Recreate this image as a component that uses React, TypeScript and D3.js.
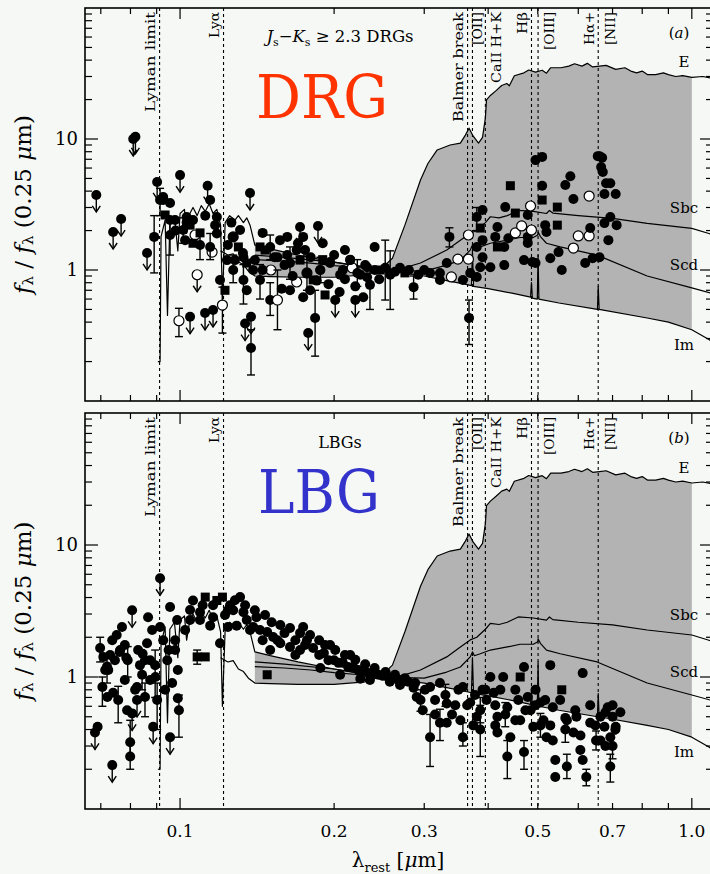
import React from "react";
import * as d3 from "d3";

type TP = [number, number];
type Pt = [number, number, number, number, string];

// ---------- axes ----------
const X_DOMAIN: [number, number] = [0.0652, 1.1];
const Y_DOMAIN: [number, number] = [0.1, 100];
const X_LABELED_TICKS = [0.1, 0.2, 0.3, 0.5, 0.7, 1.0];
const X_LABEL_TEXT = ["0.1", "0.2", "0.3", "0.5", "0.7", "1.0"];
const X_MAJOR_TICKS = [0.1, 1.0];
const X_MINOR_TICKS = [0.07, 0.08, 0.09, 0.2, 0.3, 0.4, 0.5, 0.6, 0.7, 0.8, 0.9];
const Y_MAJOR_TICKS = [1, 10];
const Y_MINOR_TICKS = [0.2, 0.3, 0.4, 0.5, 0.6, 0.7, 0.8, 0.9, 2, 3, 4, 5, 6, 7, 8, 9, 20, 30, 40, 50, 60, 70, 80, 90];
const Y_LABELED_TICKS = [1, 10];
const Y_LABEL_TEXT = ["1", "10"];

// ---------- spectral features ----------
const LINE_LAMBDAS = [0.0912, 0.1216, 0.3646, 0.3727, 0.395, 0.4861, 0.5007, 0.6563];
const LINE_LABELS = ["Lyman limit", "Lyα", "Balmer break", "[OII]", "CaII H+K", "Hβ", "[OIII]", "Hα+", "[NII]"];
const LINE_LABEL_LAMBDAS = [0.0912, 0.1216, 0.3646, 0.3727, 0.395, 0.4861, 0.5007, 0.6563, 0.6563];

// ---------- templates (normalised at 0.25 micron) ----------
const TEMPLATE_NAMES = ["E", "Sbc", "Scd", "Im"];
const SHADE_RANGE: [number, number] = [0.14, 1.0];
const E_TEMPLATE: TP[] = [
  [0.12, 1.4], [0.124, 1.3], [0.127, 1.33], [0.13, 1.15], [0.133, 1.1], [0.136, 0.98], [0.14, 0.9],
  [0.15, 0.89], [0.17, 0.88], [0.2, 0.88], [0.23, 0.92], [0.246, 1.0], [0.26, 1.23], [0.275, 2.2],
  [0.295, 4.87], [0.305, 6.5], [0.318, 8.25], [0.337, 9.0], [0.353, 9.3], [0.361, 10.7], [0.367, 12.1],
  [0.374, 10.5], [0.383, 9.3], [0.39, 10.3], [0.395, 14.5], [0.397, 19.9], [0.404, 21.5], [0.415, 23.5],
  [0.425, 25.6], [0.435, 26.5], [0.44, 25.5], [0.45, 30.4], [0.47, 32.0], [0.48, 33.6], [0.495, 32.4],
  [0.51, 33.5], [0.52, 31.8], [0.53, 35.0], [0.555, 35.0], [0.575, 36.0], [0.59, 37.5], [0.61, 36.0],
  [0.625, 37.8], [0.64, 35.5], [0.66, 36.0], [0.68, 36.5], [0.71, 34.0], [0.74, 35.0], [0.76, 33.0],
  [0.78, 32.0], [0.8, 33.0], [0.82, 31.0], [0.85, 31.0], [0.88, 32.0], [0.9, 31.0], [0.93, 30.0],
  [0.96, 30.5], [1.0, 29.5], [1.05, 30.0], [1.1, 29.0],
];
const SBC_TEMPLATE: TP[] = [
  [0.14, 1.2], [0.16, 1.17], [0.18, 1.13], [0.2, 1.08], [0.225, 1.04], [0.246, 1.0], [0.27, 1.02],
  [0.295, 1.13], [0.332, 1.42], [0.353, 1.69], [0.369, 1.91], [0.38, 2.0], [0.395, 2.3], [0.404, 2.55],
  [0.42, 2.5], [0.436, 2.6], [0.458, 2.85], [0.49, 2.8], [0.52, 2.7], [0.527, 2.85], [0.535, 2.72],
  [0.6, 2.6], [0.7, 2.48], [0.818, 2.27], [1.0, 2.08], [1.08, 1.9], [1.1, 1.86],
];
const SCD_TEMPLATE: TP[] = [
  [0.14, 1.3], [0.16, 1.25], [0.2, 1.15], [0.225, 1.07], [0.246, 1.0], [0.3, 0.98], [0.332, 1.09],
  [0.353, 1.19], [0.369, 1.42], [0.3727, 1.55], [0.376, 1.45], [0.386, 1.5], [0.404, 1.6], [0.436, 1.69],
  [0.462, 1.77], [0.49, 1.77], [0.5, 1.85], [0.5007, 1.95], [0.506, 1.8], [0.52, 1.6], [0.553, 1.5],
  [0.653, 1.3], [0.818, 0.9], [1.0, 0.73], [1.1, 0.66],
];
const IM_TEMPLATE: TP[] = [
  [0.0905, 0.2], [0.0914, 0.2], [0.0918, 1.8], [0.0935, 2.4], [0.0945, 0.45], [0.0955, 2.3], [0.0975, 2.6],
  [0.099, 1.4], [0.1, 2.7], [0.102, 2.9], [0.103, 1.9], [0.1045, 2.7], [0.106, 3.0], [0.108, 2.6],
  [0.11, 3.1], [0.112, 2.8], [0.114, 3.2], [0.116, 2.7], [0.118, 2.9], [0.12, 2.2], [0.121, 0.6],
  [0.1225, 2.3], [0.125, 2.6], [0.128, 2.4], [0.13, 2.6], [0.133, 2.3], [0.135, 2.5], [0.137, 2.2],
  [0.14, 1.55], [0.15, 1.45], [0.17, 1.3], [0.2, 1.15], [0.22, 1.08], [0.246, 1.0], [0.3, 0.9],
  [0.332, 0.83], [0.36, 0.78], [0.371, 0.76], [0.3727, 1.4], [0.3745, 0.75], [0.4, 0.72], [0.45, 0.66],
  [0.484, 0.62], [0.4861, 0.8], [0.488, 0.61], [0.499, 0.6], [0.5007, 1.3], [0.5025, 0.6], [0.55, 0.56],
  [0.654, 0.5], [0.6563, 0.75], [0.659, 0.5], [0.818, 0.43], [0.9, 0.4], [1.0, 0.35], [1.08, 0.295], [1.1, 0.28],
];

// ---------- photometry: [lambda_rest, f, errLow, errHigh, kind] ----------
// kind: c filled circle, s filled square, o open circle, u upper limit, uo open upper limit
const DRG_POINTS: Pt[] = [
  [0.0686, 3.74, 0, 0, "u"], [0.074, 1.95, 0, 0, "u"], [0.0767, 2.45, 0, 0, "u"], [0.081, 10.0, 0, 0, "u"],
  [0.0818, 10.4, 0, 0, "u"], [0.0862, 1.35, 0, 0, "u"], [0.089, 1.79, 0.95, 2.6, "c"], [0.0902, 4.7, 0, 0, "u"],
  [0.0914, 3.42, 2.6, 4.2, "c"], [0.0927, 3.6, 0, 0, "c"], [0.0935, 2.63, 0, 0, "s"], [0.0956, 1.85, 1.3, 2.4, "c"],
  [0.0978, 2.41, 0, 0, "c"], [0.1, 5.3, 0, 0, "u"], [0.0995, 0.41, 0.31, 0.51, "o"], [0.1046, 0.44, 0, 0, "u"],
  [0.1023, 1.69, 0, 0, "c"], [0.1046, 2.2, 0, 0, "s"], [0.107, 1.85, 0, 0, "o"], [0.108, 0.92, 0, 0, "uo"],
  [0.1094, 1.55, 1.2, 2.0, "c"], [0.1119, 0.47, 0, 0, "u"], [0.1132, 4.4, 0, 0, "u"], [0.1145, 3.42, 0, 0, "c"],
  [0.1155, 1.37, 0, 0, "o"], [0.116, 0.495, 0, 0, "u"], [0.1171, 2.2, 0, 0, "c"], [0.1197, 0.84, 0, 0, "c"],
  [0.121, 0.54, 0.33, 0.74, "o"], [0.1224, 0.7, 0, 0, "s"], [0.124, 1.55, 0, 0, "c"], [0.127, 1.79, 0, 0, "o"],
  [0.128, 1.19, 0, 0, "c"], [0.131, 2.02, 0, 0, "c"], [0.134, 0.39, 0, 0, "u"], [0.137, 3.87, 0, 0, "u"],
  [0.1376, 0.44, 0, 0, "u"], [0.1376, 0.254, 0.158, 0.35, "c"], [0.14, 1.19, 0, 0, "c"], [0.1433, 0.84, 0.6, 1.1, "c"],
  [0.1466, 1.42, 0, 0, "s"], [0.15, 0.59, 0.45, 0.8, "c"], [0.1505, 1.0, 0, 0, "o"], [0.155, 0.59, 0.35, 1.0, "o"],
  [0.1568, 1.69, 0, 0, "c"], [0.16, 1.09, 0, 0, "c"], [0.164, 0.7, 0, 0, "c"], [0.169, 0.81, 0, 0, "o"],
  [0.1716, 2.13, 0, 0, "u"], [0.1716, 1.19, 0, 0, "s"], [0.1755, 1.42, 0, 0, "c"], [0.177, 0.95, 0, 0, "o"],
  [0.178, 0.33, 0, 0, "u"], [0.1795, 0.7, 0, 0, "c"], [0.1836, 0.43, 0.22, 0.7, "c"], [0.186, 2.17, 0, 0, "u"],
  [0.1878, 1.0, 0, 0, "c"], [0.192, 0.645, 0, 0, "s"], [0.1964, 1.15, 0, 0, "c"], [0.201, 0.59, 0, 0, "u"],
  [0.2055, 0.92, 0, 0, "c"], [0.21, 1.42, 0, 0, "c"], [0.217, 1.04, 0, 0, "o"], [0.22, 0.59, 0, 0, "u"],
  [0.225, 0.92, 0, 0, "c"], [0.23, 1.09, 0, 0, "c"], [0.235, 0.77, 0.5, 1.0, "c"], [0.24, 1.0, 0, 0, "c"],
  [0.098, 2.0, 0, 0, "c"], [0.103, 2.3, 0, 0, "c"], [0.106, 1.6, 0, 0, "s"], [0.112, 2.6, 0, 0, "c"],
  [0.118, 1.9, 0, 0, "c"], [0.126, 2.3, 0, 0, "c"], [0.13, 1.5, 0, 0, "s"], [0.133, 1.25, 0, 0, "c"],
  [0.145, 1.0, 0, 0, "c"], [0.153, 1.25, 0, 0, "c"], [0.158, 0.72, 0, 0, "c"], [0.162, 1.3, 0, 0, "c"],
  [0.166, 0.9, 0, 0, "c"], [0.17, 1.6, 0, 0, "c"], [0.174, 0.62, 0, 0, "c"], [0.18, 1.25, 0, 0, "c"],
  [0.185, 0.83, 0, 0, "c"], [0.19, 1.2, 0, 0, "s"], [0.195, 0.78, 0, 0, "c"], [0.2, 1.3, 0, 0, "c"],
  [0.205, 0.68, 0, 0, "c"], [0.21, 0.85, 0, 0, "c"], [0.215, 1.2, 0, 0, "c"], [0.22, 0.75, 0, 0, "c"],
  [0.228, 0.62, 0, 0, "c"], [0.232, 0.88, 0, 0, "c"], [0.245, 0.85, 0, 0, "c"], [0.24, 1.5, 0, 0, "c"],
  [0.0956, 3.25, 0, 0, "c"], [0.1014, 2.02, 1.6, 2.5, "c"], [0.1094, 1.92, 0, 0, "s"], [0.1145, 1.5, 1.2, 1.9, "c"],
  [0.1235, 1.19, 0, 0, "c"], [0.127, 1.0, 0.8, 1.3, "c"], [0.1327, 1.35, 0, 0, "c"], [0.135, 1.13, 0, 0, "s"],
  [0.1389, 1.0, 0, 0, "c"], [0.1433, 1.5, 0, 0, "s"], [0.15, 1.5, 1.2, 1.85, "c"], [0.155, 1.25, 0, 0, "c"],
  [0.164, 1.13, 0.85, 1.5, "c"], [0.169, 1.42, 0, 0, "c"], [0.177, 0.95, 0.7, 1.3, "c"], [0.182, 0.84, 0, 0, "s"],
  [0.188, 1.0, 0.8, 1.25, "c"], [0.1964, 1.13, 0, 0, "c"], [0.208, 1.0, 0, 0, "c"], [0.222, 0.95, 0.75, 1.2, "c"],
  [0.232, 1.05, 0, 0, "c"], [0.246, 1.0, 0, 0, "s"], [0.215, 1.19, 0, 0, "c"], [0.19, 1.6, 0, 0, "c"],
  [0.174, 1.79, 0, 0, "c"], [0.162, 1.79, 0, 0, "c"], [0.145, 1.92, 0, 0, "c"], [0.103, 2.54, 0, 0, "c"],
  [0.106, 2.41, 0, 0, "c"], [0.118, 2.54, 0, 0, "c"], [0.0956, 2.41, 0, 0, "c"], [0.0927, 3.42, 0, 0, "c"],
  [0.127, 1.79, 0, 0, "c"], [0.133, 0.84, 0.55, 1.1, "c"], [0.135, 0.7, 0, 0, "c"],
  [0.2517, 1.04, 0.59, 1.69, "c"], [0.2574, 0.92, 0.5, 1.4, "c"], [0.263, 0.97, 0, 0, "c"], [0.269, 1.04, 0, 0, "c"],
  [0.275, 0.95, 0, 0, "s"], [0.28, 1.0, 0, 0, "c"], [0.292, 0.92, 0, 0, "c"], [0.3, 1.0, 0, 0, "c"],
  [0.286, 0.74, 0.6, 0.9, "c"], [0.308, 0.95, 0, 0, "c"], [0.322, 0.95, 0, 0, "c"], [0.322, 0.84, 0, 0, "c"],
  [0.332, 1.13, 0, 0, "c"], [0.336, 1.79, 1.5, 2.1, "c"], [0.339, 0.885, 0, 0, "o"], [0.349, 1.21, 0, 0, "o"],
  [0.357, 0.84, 0, 0, "c"], [0.366, 1.21, 0, 0, "o"], [0.366, 1.85, 0, 0, "o"], [0.367, 0.43, 0.27, 0.59, "c"],
  [0.369, 0.95, 0, 0, "c"], [0.38, 0.885, 0, 0, "c"], [0.38, 1.5, 0, 0, "c"], [0.38, 2.54, 2.0, 3.0, "c"],
  [0.386, 1.05, 0, 0, "c"], [0.386, 2.09, 0, 0, "s"], [0.39, 1.69, 0, 0, "c"], [0.39, 1.25, 0, 0, "c"],
  [0.39, 2.87, 0, 0, "c"], [0.404, 1.05, 0, 0, "c"], [0.413, 1.79, 0, 0, "c"], [0.417, 2.13, 0, 0, "c"],
  [0.417, 1.5, 0, 0, "s"], [0.43, 1.09, 0, 0, "c"], [0.43, 1.5, 0, 0, "c"], [0.432, 3.02, 0, 0, "c"],
  [0.438, 1.75, 0, 0, "c"], [0.442, 4.4, 0, 0, "s"], [0.452, 2.72, 0, 0, "s"], [0.452, 1.92, 0, 0, "o"],
  [0.465, 2.17, 0, 0, "o"], [0.47, 1.19, 0, 0, "c"], [0.478, 1.79, 0, 0, "c"], [0.478, 1.61, 0, 0, "c"],
  [0.478, 2.63, 0, 0, "c"], [0.484, 3.08, 0, 0, "o"], [0.486, 2.02, 0, 0, "o"], [0.488, 1.15, 0, 0, "c"],
  [0.495, 1.13, 0, 0, "c"], [0.495, 6.9, 0, 0, "c"], [0.51, 7.3, 0, 0, "c"], [0.51, 4.4, 0, 0, "c"],
  [0.51, 3.42, 0, 0, "s"], [0.517, 2.2, 0, 0, "c"], [0.52, 1.95, 0, 0, "c"], [0.529, 1.23, 0, 0, "c"],
  [0.546, 2.2, 0, 0, "s"], [0.546, 3.02, 0, 0, "s"], [0.549, 1.37, 0, 0, "c"], [0.557, 1.0, 0, 0, "c"],
  [0.566, 4.45, 0, 0, "c"], [0.579, 5.2, 0, 0, "c"], [0.587, 3.48, 0, 0, "c"], [0.587, 1.47, 0, 0, "o"],
  [0.6, 1.82, 0, 0, "o"], [0.619, 1.13, 0, 0, "c"], [0.63, 3.67, 0, 0, "o"], [0.63, 1.82, 0, 0, "o"],
  [0.633, 2.09, 0, 0, "c"], [0.64, 1.23, 0, 0, "c"], [0.66, 1.25, 0, 0, "c"], [0.66, 7.4, 0, 0, "c"],
  [0.665, 6.1, 0, 0, "c"], [0.67, 5.6, 0, 0, "c"], [0.675, 3.8, 0, 0, "c"], [0.675, 2.28, 0, 0, "c"],
  [0.687, 1.69, 0, 0, "c"], [0.693, 4.6, 0, 0, "c"], [0.693, 2.54, 0, 0, "c"], [0.71, 3.8, 0, 0, "c"],
  [0.713, 2.2, 0, 0, "c"], [0.655, 7.4, 0, 0, "c"], [0.668, 7.2, 0, 0, "c"], [0.68, 4.6, 0, 0, "c"],
];

const LBG_POINTS: Pt[] = [
  [0.0682, 0.38, 0, 0, "u"], [0.069, 0.42, 0, 0, "c"], [0.0698, 1.66, 1.3, 2.0, "c"], [0.0705, 0.84, 0.6, 1.0, "c"],
  [0.0708, 1.42, 0, 0, "c"], [0.0721, 0.705, 0, 0, "c"], [0.0724, 1.13, 0, 0, "c"], [0.0737, 1.9, 0, 0, "c"],
  [0.0737, 0.215, 0, 0, "u"], [0.074, 0.76, 0, 0, "c"], [0.0746, 1.34, 0, 0, "c"], [0.0757, 0.67, 0.45, 0.85, "c"],
  [0.0764, 1.6, 0, 0, "c"], [0.077, 2.39, 0, 0, "c"], [0.078, 0.95, 0, 0, "c"], [0.0788, 0.56, 0, 0, "c"],
  [0.0799, 0.32, 0.24, 0.47, "c"], [0.0799, 0.25, 0.2, 0.32, "c"], [0.0806, 0.53, 0, 0, "u"], [0.0806, 3.2, 0, 0, "u"],
  [0.0817, 0.8, 0, 0, "c"], [0.0824, 0.67, 0, 0, "u"], [0.0824, 0.84, 0, 0, "c"], [0.0835, 1.23, 0, 0, "c"],
  [0.0854, 0.705, 0.5, 0.9, "c"], [0.0854, 1.34, 0, 0, "c"], [0.0862, 1.8, 0, 0, "c"], [0.0866, 2.84, 0, 0, "c"],
  [0.0874, 0.95, 0, 0, "c"], [0.0882, 2.27, 0, 0, "c"], [0.0886, 0.42, 0, 0, "u"], [0.0894, 1.23, 0.7, 1.6, "c"],
  [0.0914, 5.6, 0, 0, "u"], [0.0914, 2.39, 0, 0, "c"], [0.0927, 1.9, 0, 0, "c"], [0.0944, 1.34, 0, 0, "c"],
  [0.0956, 3.39, 0, 0, "c"], [0.0956, 0.35, 0, 0, "u"], [0.0965, 0.9, 0, 0, "c"], [0.0978, 1.6, 0, 0, "c"],
  [0.099, 0.69, 0, 0, "c"], [0.099, 1.13, 0, 0, "c"], [0.0995, 0.56, 0.35, 0.73, "c"], [0.0762, 1.55, 0, 0, "c"],
  [0.072, 1.2, 0.9, 1.5, "c"], [0.0785, 1.4, 0, 0, "c"], [0.0845, 1.5, 0, 0, "c"], [0.0895, 1.0, 0, 0, "c"],
  [0.0714, 1.13, 0, 0, "c"], [0.073, 1.47, 0, 0, "c"], [0.0752, 2.08, 0, 0, "c"], [0.078, 1.75, 0, 0, "c"],
  [0.079, 1.34, 1.0, 1.7, "c"], [0.0828, 1.6, 0, 0, "c"], [0.0843, 1.04, 0.8, 1.3, "c"], [0.0874, 1.34, 0, 0, "c"],
  [0.0902, 0.67, 0.4, 0.9, "c"], [0.0935, 0.8, 0, 0, "c"], [0.095, 1.6, 0, 0, "c"], [0.0978, 1.9, 0, 0, "c"],
  [0.0987, 2.7, 0, 0, "c"],
  [0.1023, 2.27, 0, 0, "c"], [0.1046, 2.7, 0, 0, "c"], [0.106, 3.8, 0, 0, "c"], [0.108, 1.42, 1.25, 1.6, "s"],
  [0.1094, 2.7, 0, 0, "c"], [0.1107, 3.5, 0, 0, "c"], [0.112, 4.03, 0, 0, "s"], [0.112, 1.42, 0, 0, "s"],
  [0.1145, 2.45, 0, 0, "c"], [0.116, 2.84, 0, 0, "c"], [0.118, 3.8, 0, 0, "s"], [0.1197, 1.8, 0, 0, "c"],
  [0.121, 4.03, 0, 0, "s"], [0.1224, 2.95, 0, 0, "c"], [0.124, 2.39, 0, 0, "c"], [0.1252, 3.5, 0, 0, "c"],
  [0.127, 3.2, 0, 0, "c"], [0.129, 2.45, 0, 0, "c"], [0.131, 4.03, 0, 0, "c"], [0.133, 3.1, 0, 0, "c"],
  [0.135, 2.7, 0, 0, "c"], [0.137, 2.27, 0, 0, "c"], [0.139, 2.39, 0, 0, "c"], [0.141, 2.84, 0, 0, "c"],
  [0.1433, 2.27, 0, 0, "c"], [0.145, 1.9, 0, 0, "c"], [0.148, 2.19, 0, 0, "c"], [0.148, 1.04, 0, 0, "s"],
  [0.15, 1.6, 0, 0, "c"], [0.152, 2.01, 0, 0, "c"], [0.155, 1.9, 0, 0, "c"], [0.157, 1.8, 0, 0, "c"],
  [0.16, 2.15, 0, 0, "c"], [0.164, 1.69, 0, 0, "c"], [0.168, 1.47, 0, 0, "c"], [0.1716, 2.15, 0, 0, "c"],
  [0.174, 2.39, 0, 0, "c"], [0.177, 1.9, 0, 0, "c"], [0.182, 1.66, 0, 0, "c"], [0.187, 1.47, 0, 0, "c"],
  [0.191, 1.52, 0, 0, "c"], [0.195, 1.34, 0, 0, "c"], [0.2, 1.34, 0, 0, "c"], [0.204, 1.28, 0, 0, "c"],
  [0.208, 1.28, 0, 0, "c"], [0.213, 1.19, 0, 0, "c"], [0.218, 1.19, 0, 0, "c"], [0.223, 1.13, 0, 0, "c"],
  [0.228, 1.13, 0, 0, "c"], [0.233, 1.07, 0, 0, "c"], [0.238, 1.07, 0, 0, "c"], [0.244, 1.04, 0, 0, "c"],
  [0.249, 1.02, 0, 0, "c"], [0.255, 1.0, 0, 0, "c"], [0.261, 0.98, 0, 0, "c"], [0.267, 0.95, 0, 0, "c"],
  [0.273, 0.95, 0, 0, "c"], [0.279, 0.92, 0, 0, "c"], [0.1716, 1.6, 0, 0, "c"], [0.188, 1.17, 0, 0, "c"],
  [0.2055, 1.04, 0, 0, "c"], [0.225, 0.97, 0, 0, "c"], [0.1964, 1.75, 0, 0, "c"], [0.215, 1.47, 0, 0, "c"],
  [0.1046, 3.22, 0, 0, "c"], [0.1094, 3.1, 0, 0, "c"], [0.116, 3.5, 0, 0, "c"], [0.124, 3.2, 0, 0, "c"],
  [0.128, 3.82, 0, 0, "c"], [0.134, 3.5, 0, 0, "c"], [0.14, 3.2, 0, 0, "c"], [0.1466, 2.95, 0, 0, "c"],
  [0.151, 2.6, 0, 0, "c"], [0.157, 2.48, 0, 0, "c"], [0.164, 2.35, 0, 0, "c"], [0.168, 1.9, 0, 0, "c"],
  [0.1755, 1.75, 0, 0, "c"], [0.1795, 2.08, 0, 0, "c"], [0.187, 1.9, 0, 0, "c"], [0.192, 1.75, 0, 0, "c"],
  [0.201, 1.6, 0, 0, "c"], [0.21, 1.47, 0, 0, "c"], [0.22, 1.35, 0, 0, "c"], [0.23, 1.25, 0, 0, "c"],
  [0.24, 1.17, 0, 0, "c"], [0.252, 1.09, 0, 0, "c"], [0.263, 1.04, 0, 0, "c"], [0.275, 0.98, 0, 0, "c"],
  [0.288, 0.9, 0, 0, "c"], [0.257, 0.92, 0, 0, "c"], [0.269, 0.87, 0, 0, "c"], [0.235, 0.95, 0, 0, "c"],
  [0.286, 0.83, 0, 0, "c"], [0.29, 0.705, 0, 0, "c"], [0.298, 0.56, 0, 0, "c"], [0.308, 0.84, 0, 0, "c"],
  [0.308, 0.35, 0.21, 0.52, "c"], [0.315, 0.67, 0, 0, "c"], [0.322, 0.9, 0, 0, "c"], [0.322, 0.45, 0.33, 0.57, "c"],
  [0.332, 0.63, 0, 0, "c"], [0.332, 0.45, 0, 0, "c"], [0.34, 0.52, 0, 0, "c"], [0.35, 0.8, 0, 0, "c"],
  [0.357, 0.84, 0, 0, "c"], [0.357, 0.35, 0.3, 0.45, "c"], [0.364, 0.61, 0, 0, "c"], [0.369, 0.64, 0, 0, "c"],
  [0.374, 0.43, 0, 0, "c"], [0.38, 0.5, 0, 0, "c"], [0.386, 0.4, 0.25, 0.61, "c"], [0.39, 0.8, 0, 0, "c"],
  [0.397, 0.67, 0, 0, "c"], [0.404, 1.0, 0, 0, "c"], [0.41, 0.76, 0, 0, "c"], [0.413, 0.61, 0, 0, "c"],
  [0.417, 0.5, 0, 0, "c"], [0.417, 0.38, 0, 0, "c"], [0.4225, 0.8, 0, 0, "c"], [0.428, 1.0, 0, 0, "c"],
  [0.436, 0.59, 0, 0, "c"], [0.436, 0.25, 0.17, 0.33, "c"], [0.442, 0.35, 0, 0, "c"], [0.452, 0.47, 0, 0, "c"],
  [0.458, 0.67, 0, 0, "c"], [0.462, 1.0, 0, 0, "s"], [0.47, 1.19, 0, 0, "c"], [0.47, 0.27, 0.2, 0.33, "c"],
  [0.478, 0.705, 0, 0, "c"], [0.484, 0.56, 0, 0, "c"], [0.49, 0.42, 0, 0, "c"], [0.495, 0.61, 0, 0, "c"],
  [0.506, 0.64, 0, 0, "c"], [0.513, 0.47, 0, 0, "c"], [0.52, 0.35, 0, 0, "c"], [0.529, 1.23, 0, 0, "c"],
  [0.535, 0.59, 0, 0, "c"], [0.535, 0.33, 0, 0, "c"], [0.541, 0.235, 0, 0, "c"], [0.541, 0.175, 0, 0, "c"],
  [0.557, 0.8, 0, 0, "s"], [0.566, 0.49, 0, 0, "c"], [0.57, 0.47, 0, 0, "c"], [0.57, 0.21, 0.17, 0.26, "c"],
  [0.587, 0.38, 0, 0, "c"], [0.595, 0.5, 0, 0, "c"], [0.6056, 0.28, 0, 0, "c"], [0.612, 1.07, 0, 0, "c"],
  [0.612, 0.235, 0, 0, "c"], [0.622, 0.175, 0.15, 0.2, "c"], [0.633, 0.45, 0, 0, "c"], [0.65, 0.33, 0.28, 0.39, "c"],
  [0.6627, 0.5, 0, 0, "c"], [0.675, 0.42, 0, 0, "c"], [0.685, 0.59, 0, 0, "c"], [0.693, 0.35, 0, 0, "c"],
  [0.693, 0.21, 0.16, 0.26, "c"], [0.7, 0.5, 0, 0, "c"], [0.71, 0.42, 0, 0, "c"], [0.678, 0.3, 0, 0, "c"],
  [0.7, 0.61, 0, 0, "c"],
  [0.295, 0.67, 0.55, 0.8, "c"], [0.301, 0.8, 0, 0, "c"], [0.315, 0.52, 0, 0, "c"], [0.33, 0.73, 0.6, 0.88, "c"],
  [0.345, 0.61, 0, 0, "c"], [0.353, 0.47, 0, 0, "c"], [0.377, 0.73, 0, 0, "c"], [0.386, 0.56, 0.45, 0.7, "c"],
  [0.395, 0.8, 0, 0, "c"], [0.413, 0.43, 0, 0, "c"], [0.432, 0.52, 0.42, 0.64, "c"], [0.452, 0.8, 0, 0, "c"],
  [0.462, 0.47, 0, 0, "c"], [0.473, 0.56, 0, 0, "c"], [0.495, 0.8, 0, 0, "c"], [0.506, 0.43, 0.35, 0.53, "c"],
  [0.517, 0.67, 0, 0, "c"], [0.529, 0.43, 0, 0, "c"], [0.553, 0.67, 0, 0, "c"], [0.566, 0.4, 0.32, 0.5, "c"],
  [0.592, 0.56, 0, 0, "c"], [0.606, 0.36, 0, 0, "c"], [0.633, 0.61, 0, 0, "c"], [0.648, 0.43, 0, 0, "c"],
  [0.663, 0.33, 0, 0, "c"], [0.678, 0.54, 0, 0, "c"], [0.709, 0.4, 0, 0, "c"], [0.725, 0.54, 0, 0, "c"],
  [0.7, 0.3, 0.24, 0.37, "c"],
];

// ---------- layout ----------
const W = 710;
const H = 874;
const LEFT = 85;
const RIGHT = 713;
const BG = "#f5f8f5";
const GRAY = "#b3b3b3";
const FONT = "DejaVu Serif";
const LABEL_OFFSETS = [-9, -9, -9, 5, 11, -9, 11, -9, 12];
const LABEL_LENGTHS = [100, 26, 110, 33, 71, 22, 38, 33, 33];
const TPL_LABEL_OFFSETS = [-15, -20, -23, 15];

const TEMPLATES = [E_TEMPLATE, SBC_TEMPLATE, SCD_TEMPLATE, IM_TEMPLATE];

function interp(tpl: TP[], lam: number): number | null {
  if (lam < tpl[0][0] || lam > tpl[tpl.length - 1][0]) return null;
  for (let i = 0; i < tpl.length - 1; i++) {
    const [l0, f0] = tpl[i];
    const [l1, f1] = tpl[i + 1];
    if (lam >= l0 && lam <= l1) {
      if (l1 === l0) return f0;
      const t = Math.log(lam / l0) / Math.log(l1 / l0);
      return Math.exp(Math.log(f0) + t * (Math.log(f1) - Math.log(f0)));
    }
  }
  return null;
}

interface PanelProps {
  idx: number;
  top: number;
  bottom: number;
  points: Pt[];
  x: any;
}

function Panel({ idx, top, bottom, points, x }: PanelProps) {
  const y = d3.scaleLog().domain(Y_DOMAIN).range([bottom, top]);
  const clipId = `clip${idx}`;

  const grid = Array.from(
    new Set([SHADE_RANGE[0], SHADE_RANGE[1], ...TEMPLATES.flatMap((t) => t.map((d) => d[0]))])
  )
    .filter((l) => l >= SHADE_RANGE[0] && l <= SHADE_RANGE[1])
    .sort((a, b) => a - b);
  const band = grid.map((l) => {
    const vals = TEMPLATES.map((t) => interp(t, l)).filter((v) => v != null) as number[];
    return { l, hi: Math.max(...vals), lo: Math.min(...vals) };
  });
  const area = d3
    .area<{ l: number; hi: number; lo: number }>()
    .x((d) => x(d.l))
    .y0((d) => y(d.lo))
    .y1((d) => y(d.hi));
  const line = d3
    .line<TP>()
    .x((d) => x(d[0]))
    .y((d) => y(d[1]));

  const marks: any[] = [];
  points.forEach((d, i) => {
    const [lam, f, lo, hi, kind] = d;
    const cx = x(lam);
    const cy = y(f);
    if (lo > 0 && hi > 0) {
      const y1 = y(lo);
      const y2 = y(hi);
      marks.push(
        <g key={`e${i}`} stroke="#000" strokeWidth={1.4}>
          <line x1={cx} x2={cx} y1={y1} y2={y2} />
          <line x1={cx - 4} x2={cx + 4} y1={y1} y2={y1} />
          <line x1={cx - 4} x2={cx + 4} y1={y2} y2={y2} />
        </g>
      );
    }
    if (kind === "u" || kind === "uo") {
      marks.push(
        <g key={`a${i}`} stroke="#000" strokeWidth={1.4} fill="none">
          <line x1={cx} x2={cx} y1={cy} y2={cy + 17} />
          <path d={`M${cx - 4},${cy + 11} L${cx},${cy + 17} L${cx + 4},${cy + 11}`} />
        </g>
      );
    }
    if (kind === "s") {
      marks.push(<rect key={`m${i}`} x={cx - 4.5} y={cy - 4.5} width={9} height={9} fill="#000" />);
    } else if (kind === "o" || kind === "uo") {
      marks.push(<circle key={`m${i}`} cx={cx} cy={cy} r={5} fill="#fff" stroke="#000" strokeWidth={1.2} />);
    } else {
      marks.push(<circle key={`m${i}`} cx={cx} cy={cy} r={5} fill="#000" />);
    }
  });

  const xTicks = [
    ...X_MAJOR_TICKS.map((v) => ({ v, len: 11 })),
    ...X_MINOR_TICKS.map((v) => ({ v, len: 6 })),
  ];
  const yTicks = [
    ...Y_MAJOR_TICKS.map((v) => ({ v, len: 13 })),
    ...Y_MINOR_TICKS.map((v) => ({ v, len: 7 })),
  ];

  return (
    <g>
      <defs>
        <clipPath id={clipId}>
          <rect x={LEFT} y={top} width={RIGHT - LEFT} height={bottom - top} />
        </clipPath>
      </defs>
      <g clipPath={`url(#${clipId})`}>
        <path d={area(band) || ""} fill={GRAY} />
        {TEMPLATES.map((t, i) => (
          <path key={i} d={line(t) || ""} fill="none" stroke="#000" strokeWidth={1.2} strokeLinejoin="round" />
        ))}
        {LINE_LAMBDAS.map((l, i) => (
          <line key={i} x1={x(l)} x2={x(l)} y1={top} y2={bottom} stroke="#000" strokeWidth={1.1} strokeDasharray="3,3" />
        ))}
        {marks}
      </g>
      <rect x={LEFT} y={top} width={RIGHT - LEFT} height={bottom - top} fill="none" stroke="#000" strokeWidth={1.6} />
      {xTicks.map((t, i) => (
        <g key={`xt${i}`} stroke="#000" strokeWidth={1.2}>
          <line x1={x(t.v)} x2={x(t.v)} y1={bottom} y2={bottom - t.len} />
          <line x1={x(t.v)} x2={x(t.v)} y1={top} y2={top + t.len} />
        </g>
      ))}
      {yTicks.map((t, i) => (
        <g key={`yt${i}`} stroke="#000" strokeWidth={1.2}>
          <line x1={LEFT} x2={LEFT + t.len} y1={y(t.v)} y2={y(t.v)} />
          <line x1={RIGHT} x2={RIGHT - t.len} y1={y(t.v)} y2={y(t.v)} />
        </g>
      ))}
      {Y_LABELED_TICKS.map((v, i) => (
        <text key={`yl${i}`} x={78} y={y(v) + 6} textAnchor="end" fontSize={18} fontFamily={FONT}>
          {Y_LABEL_TEXT[i]}
        </text>
      ))}
      {LINE_LABELS.map((s, i) => (
        <text
          key={`ll${i}`}
          transform={`translate(${x(LINE_LABEL_LAMBDAS[i]) + LABEL_OFFSETS[i]},${top + 4}) rotate(-90)`}
          textAnchor="end"
          dominantBaseline="central"
          fontSize={13}
          fontFamily={FONT}
          textLength={LABEL_LENGTHS[i]}
          lengthAdjust="spacingAndGlyphs"
        >
          {s}
        </text>
      ))}
      {TEMPLATE_NAMES.map((n, i) => (
        <text
          key={`tn${i}`}
          x={684}
          y={y(interp(TEMPLATES[i], 1.0) as number) + TPL_LABEL_OFFSETS[i]}
          textAnchor="middle"
          dominantBaseline="central"
          fontSize={15}
          fontFamily={FONT}
        >
          {n}
        </text>
      ))}
      <text
        transform={`translate(23,${(top + bottom) / 2}) rotate(-90)`}
        textAnchor="middle"
        dominantBaseline="central"
        fontSize={23}
        fontFamily={FONT}
      >
        <tspan fontStyle="italic">f</tspan>
        <tspan dy={5} fontSize={15}>λ</tspan>
        <tspan dy={-5}>{" / "}</tspan>
        <tspan fontStyle="italic">f</tspan>
        <tspan dy={5} fontSize={15}>λ</tspan>
        <tspan dy={-5}>{" (0.25 "}</tspan>
        <tspan fontStyle="italic">μ</tspan>
        <tspan>m)</tspan>
      </text>
    </g>
  );
}

export default function App() {
  const x = d3.scaleLog().domain(X_DOMAIN).range([LEFT, RIGHT]);
  const panels = [
    { top: 8, bottom: 401, points: DRG_POINTS },
    { top: 413, bottom: 809, points: LBG_POINTS },
  ];
  return (
    <svg width={W} height={H} style={{ position: "absolute", left: 0, top: 0, display: "block" }}>
      <rect width={W} height={H} fill={BG} />
      {panels.map((p, i) => (
        <Panel key={i} idx={i} top={p.top} bottom={p.bottom} points={p.points} x={x} />
      ))}
      <text x={340} y={42} textAnchor="middle" fontSize={16.5} fontFamily={FONT}>
        <tspan fontStyle="italic">J</tspan>
        <tspan dy={4} fontSize={11}>s</tspan>
        <tspan dy={-4}>−</tspan>
        <tspan fontStyle="italic">K</tspan>
        <tspan dy={4} fontSize={11}>s</tspan>
        <tspan dy={-4}>{" ≥ 2.3 DRGs"}</tspan>
      </text>
      <text x={340} y={448} textAnchor="middle" fontSize={16} fontFamily={FONT}>LBGs</text>
      <text x={679} y={38} textAnchor="middle" fontSize={15} fontFamily={FONT}>
        (<tspan fontStyle="italic">a</tspan>)
      </text>
      <text x={679} y={443} textAnchor="middle" fontSize={15} fontFamily={FONT}>
        (<tspan fontStyle="italic">b</tspan>)
      </text>
      <text x={256} y={118} fontSize={60} fontFamily={FONT} fill="#ff3300" textLength={132} lengthAdjust="spacingAndGlyphs">
        DRG
      </text>
      <text x={258} y={513} fontSize={60} fontFamily={FONT} fill="#3333cc" textLength={122} lengthAdjust="spacingAndGlyphs">
        LBG
      </text>
      {X_LABELED_TICKS.map((v, i) => (
        <text key={i} x={x(v)} y={837} textAnchor="middle" fontSize={17} fontFamily={FONT}>
          {X_LABEL_TEXT[i]}
        </text>
      ))}
      <text x={398} y={867} textAnchor="middle" fontSize={20} fontFamily={FONT}>
        λ<tspan dy={5} fontSize={13}>rest</tspan>
        <tspan dy={-5}>{"  ["}</tspan>
        <tspan fontStyle="italic">μ</tspan>
        <tspan>m]</tspan>
      </text>
    </svg>
  );
}
